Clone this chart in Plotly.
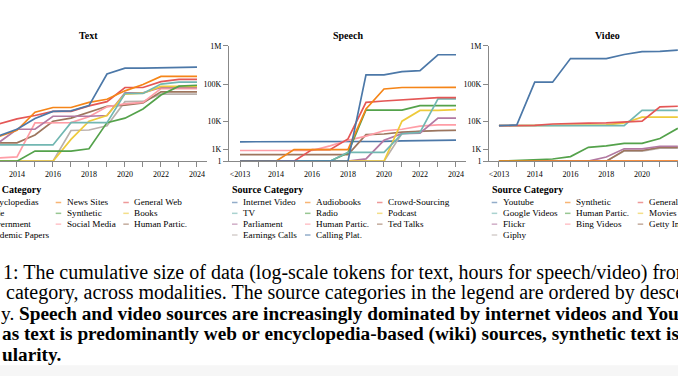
import math
import plotly.graph_objects as go

W, H = 678, 381

# ---------------- data ----------------
speech_years = list(range(2012, 2025))
text_years = list(range(2013, 2025))
video_years = list(range(2012, 2023))

x_tick_years = list(range(2012, 2025))
x_tick_labels = ["<2013" if y == 2012 else (str(y) if y % 2 == 0 else "") for y in x_tick_years]
y_tick_values = [1, 1_000, 10_000, 100_000, 1_000_000]
y_tick_labels = ["1", "1K", "10K", "100K", "1M"]

palette = ["#4c78a8", "#f58518", "#e45756", "#72b7b2", "#54a24b",
           "#eeca3b", "#b279a2", "#ff9da6", "#9d755d", "#bab0ac"]

# Text (2013 .. 2024)
text_categories = ["Encyclopedias", "News Sites", "General Web", "Code", "Synthetic",
                   "Books", "Government", "Social Media", "Human Partic.", "Academic Papers"]
text_encyclopedias = [3600, 5800, 12000, 18800, 19500, 27000, 185000, 265000, 265000, 272000, 280000, 282000]
text_news_sites = [3400, 5400, 17900, 24000, 24000, 33000, 40000, 67000, 98000, 160000, 160000, 160000]
text_general_web = [8300, 11700, 14500, 18800, 18800, 26500, 34500, 82000, 82000, 117000, 134000, 134000]
text_code = [1650, 1650, 1650, 1650, 9100, 9100, 9100, 57000, 57000, 101000, 113000, 113000]
text_synthetic = [0, 0, 830, 830, 830, 1100, 9100, 12200, 21900, 52000, 89000, 94000]
text_books = [0, 0, 0, 0, 2700, 10000, 14500, 55000, 58000, 88000, 88000, 88000]
text_government = [2100, 5800, 5800, 13800, 13800, 13800, 14500, 59000, 59000, 82000, 82000, 82000]
text_social_media = [220, 290, 9000, 9000, 9100, 13400, 25000, 30000, 33000, 77000, 77000, 77000]
text_human_partic = [2000, 2000, 3800, 10000, 12200, 17700, 26000, 28000, 32000, 63000, 63000, 63000]
text_academic_papers = [0, 0, 0, 0, 5300, 5500, 7400, 34500, 35000, 55000, 55000, 55000]

# Speech (<2013 .. 2024)
speech_categories = ["Internet Video", "Audiobooks", "Crowd-Sourcing", "TV", "Radio", "Podcast",
                     "Parliament", "Human Partic.", "Ted Talks", "Earnings Calls", "Calling Plat."]
speech_internet_video = [0, 0, 0, 0, 0, 0, 0, 176000, 176000, 214000, 227000, 590000, 590000]
speech_audiobooks = [0, 0, 0, 1000, 1000, 1000, 1000, 22000, 75000, 82000, 83000, 83000, 83000]
speech_crowd_sourcing = [0, 0, 0, 0, 1000, 1000, 2800, 33000, 36000, 39000, 42000, 44000, 44000]
speech_tv = [0, 0, 0, 0, 0, 0, 700, 700, 700, 4200, 4600, 41000, 41000]
speech_radio = [0, 0, 0, 0, 0, 0, 650, 20500, 20500, 20500, 27000, 27000, 27000]
speech_podcast = [0, 0, 0, 0, 0, 0, 0, 0, 0, 10000, 20000, 20000, 21000]
speech_parliament = [0, 0, 0, 0, 0, 0, 0, 150, 2500, 4200, 4400, 12300, 12300]
speech_human_partic = [900, 900, 900, 900, 900, 1500, 2500, 3500, 5200, 5800, 7200, 7800, 7800]
speech_ted_talks = [480, 480, 480, 480, 480, 480, 480, 3900, 4100, 4700, 5100, 5300, 5400]
speech_earnings_calls = [0, 0, 0, 0, 0, 0, 0, 0, 0, 4300, 5000, 5200, 5300]
speech_calling_plat = [2200, 2200, 2200, 2200, 2200, 2200, 2200, 2200, 2300, 2400, 2450, 2500, 2550]

# Video (<2013 .. 2022, later years fall outside the visible area)
video_categories = ["Youtube", "Synthetic", "General", "Google Videos", "Human Partic.",
                    "Movies", "Flickr", "Bing Videos", "Getty Images", "Giphy"]
video_youtube = [7400, 7800, 113000, 113000, 470000, 470000, 470000, 600000, 710000, 720000, 780000]
video_synthetic = [0, 0, 0, 0, 0, 0, 0, 0, 0, 0, 0]
video_general = [7400, 7400, 7600, 8300, 8700, 8800, 8900, 9500, 10000, 25000, 26000]
video_google_videos = [7400, 7400, 7400, 7400, 7400, 7400, 7400, 7400, 20000, 20000, 20000]
video_human_partic = [0, 50, 120, 140, 320, 1300, 1500, 1900, 1900, 2900, 6200]
video_movies = [7400, 7400, 7400, 7500, 7600, 7700, 7800, 8900, 13000, 13000, 13000]
video_flickr = [0, 0, 0, 0, 0, 0, 290, 1100, 1100, 1450, 1450]
video_bing_videos = [0, 0, 0, 0, 0, 0, 0, 0, 0, 0, 0]
video_getty_images = [0, 0, 0, 0, 0, 0, 0, 900, 900, 1300, 1300]
video_giphy = [0, 0, 0, 0, 0, 0, 0, 830, 830, 1200, 1200]

text_series = [text_encyclopedias, text_news_sites, text_general_web, text_code, text_synthetic,
               text_books, text_government, text_social_media, text_human_partic, text_academic_papers]
speech_series = [speech_internet_video, speech_audiobooks, speech_crowd_sourcing, speech_tv, speech_radio,
                 speech_podcast, speech_parliament, speech_human_partic, speech_ted_talks,
                 speech_earnings_calls, speech_calling_plat]
video_series = [video_youtube, video_synthetic, video_general, video_google_videos, video_human_partic,
                video_movies, video_flickr, video_bing_videos, video_getty_images, video_giphy]

caption_lines = [
    "1: The cumulative size of data (log-scale tokens for text, hours for speech/video) from each",
    "category, across modalities. The source categories in the legend are ordered by descending",
    "y. <b>Speech and video sources are increasingly dominated by internet videos and YouTube,</b>",
    "<b>as text is predominantly web or encyclopedia-based (wiki) sources, synthetic text is growing</b>",
    "<b>ularity.</b>",
]

# ---------------- helpers ----------------
SERIF = "Liberation Serif"


def symlog(v):
    return math.log1p(v / 1000.0)


def px(xp):
    return xp / W


def py(yp):
    return 1 - yp / H


Y_TOP, Y_BOT = 43, 161
ydom = [py(Y_BOT), py(Y_TOP)]
y_max = symlog(1_000_000)

fig = go.Figure()

panels = [
    ("Text", "x", "y", text_years, text_categories, text_series),
    ("Speech", "x2", "y2", speech_years, speech_categories, speech_series),
    ("Video", "x3", "y3", video_years, video_categories, video_series),
]

for name, xa, ya, yrs, cats, series in panels:
    # draw last legend entry first so that the first ones sit on top
    for i in reversed(range(len(cats))):
        fig.add_trace(go.Scatter(
            x=yrs, y=[symlog(v) for v in series[i]],
            mode="lines", name=cats[i],
            line=dict(color=palette[i % len(palette)], width=1.7),
            xaxis=xa, yaxis=ya, showlegend=False, hoverinfo="skip",
        ))

axis_font = dict(family=SERIF, size=8, color="#000")
common_x = dict(tickmode="array", tickvals=x_tick_years, ticktext=x_tick_labels,
                ticks="outside", ticklen=5, tickcolor="#888", tickwidth=1,
                showline=True, linecolor="#888", linewidth=1,
                showgrid=False, zeroline=False, tickfont=axis_font, tickangle=0)
common_y = dict(range=[0, y_max], tickmode="array",
                tickvals=[symlog(v) for v in y_tick_values], ticktext=y_tick_labels,
                ticks="outside", ticklen=5, tickcolor="#888", tickwidth=1,
                showline=True, linecolor="#888", linewidth=1,
                showgrid=False, zeroline=False, tickfont=axis_font, domain=ydom)

fig.update_layout(
    width=W, height=H, autosize=False,
    margin=dict(l=0, r=0, t=0, b=0, pad=0),
    paper_bgcolor="white", plot_bgcolor="white",
    font=dict(family=SERIF),
    xaxis=dict(common_x, domain=[0, px(207)], range=[2013.056, 2024.556], anchor="y"),
    yaxis=dict(common_y, anchor="x", showline=False, ticks="", showticklabels=False),
    xaxis2=dict(common_x, domain=[px(229), px(466)], range=[2011.389, 2024.556], anchor="y2"),
    yaxis2=dict(common_y, anchor="x2"),
    xaxis3=dict(common_x, domain=[px(489), 1], range=[2011.444, 2022.01], anchor="y3"),
    yaxis3=dict(common_y, anchor="x3"),
)

annotations = []
shapes = []

# panel titles
for title, cx in [("Text", 88.5), ("Speech", 347.5), ("Video", 607.5)]:
    annotations.append(dict(text=f"<b>{title}</b>", x=px(cx), y=py(32), xref="paper", yref="paper",
                            xanchor="center", yanchor="middle", showarrow=False,
                            font=dict(family=SERIF, size=10, color="#000")))

# legends (drawn as text + short strokes)
legend_layout = [
    (-32, [-16.5, 65.7, 133.3], text_categories),
    (230, [242, 315, 387], speech_categories),
    (489.5, [501.7, 575, 647.7], video_categories),
]
for title_x, col_x, cats in legend_layout:
    annotations.append(dict(text="<b>Source Category</b>", x=px(title_x), y=py(190.3),
                            xref="paper", yref="paper", xanchor="left", yanchor="middle",
                            showarrow=False, font=dict(family=SERIF, size=10, color="#000")))
    for i, cat in enumerate(cats):
        r, c = divmod(i, 3)
        ty = 202.8 + 11.1 * r
        tx = col_x[c]
        annotations.append(dict(text=cat, x=px(tx - 1), y=py(ty), xref="paper", yref="paper",
                                xanchor="left", yanchor="middle", showarrow=False,
                                font=dict(family=SERIF, size=9.2, color="#000")))
        shapes.append(dict(type="line", xref="paper", yref="paper",
                           x0=px(tx - 10), x1=px(tx - 4.5), y0=py(ty + 0.5), y1=py(ty + 0.5),
                           line=dict(color=palette[i % len(palette)], width=1.5), opacity=0.6))

# caption
cap_pos = [(1.5, 274.5, 20.0), (5, 295.5, 20.0), (0, 316.5, 19.3), (0.5, 337.5, 19.25), (0.5, 358.5, 19.25)]
for (cx, cy, fs), line in zip(cap_pos, caption_lines):
    annotations.append(dict(text=line, x=px(cx), y=py(cy), xref="paper", yref="paper",
                            xanchor="left", yanchor="middle", showarrow=False, borderpad=0,
                            font=dict(family=SERIF, size=fs, color="#000")))

# light grey band at the bottom of the page
shapes.append(dict(type="rect", xref="paper", yref="paper", x0=0, x1=1, y0=0, y1=py(370),
                   fillcolor="#f6f6f6", line=dict(width=0), layer="below"))

fig.update_layout(annotations=annotations, shapes=shapes)

fig.write_html("out.html", config={"displayModeBar": False},
               post_script="document.body.style.margin='0';document.body.style.padding='0';"
                           "document.documentElement.style.margin='0';document.body.style.overflow='hidden';")
